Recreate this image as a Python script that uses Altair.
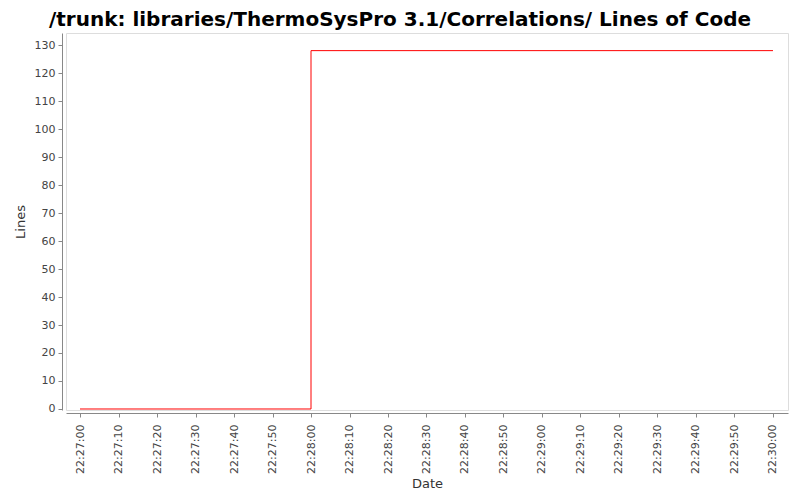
import altair as alt
import pandas as pd

times = ["2024-01-01T22:27:00", "2024-01-01T22:28:00", "2024-01-01T22:30:00"]
lines = [0, 128, 128]

tick_seconds = list(range(0, 190, 10))
y_ticks = list(range(0, 140, 10))

df = pd.DataFrame({"Date": times, "Lines": lines})

x_domain = [
    alt.DateTime(year=2024, month=1, date=1, hours=22, minutes=26, seconds=56, milliseconds=360),
    alt.DateTime(year=2024, month=1, date=1, hours=22, minutes=30, seconds=3, milliseconds=900),
]

tick_dt = [
    alt.DateTime(year=2024, month=1, date=1, hours=22, minutes=27 + s // 60, seconds=s % 60)
    for s in tick_seconds
]

axis_style = dict(
    domainColor="#888888",
    tickColor="#888888",
    labelColor="#444444",
    labelFont="DejaVu Sans",
    labelFontSize=11,
    titleFont="DejaVu Sans",
    titleFontSize=13,
    titleFontWeight="normal",
    titleColor="#333333",
    grid=False,
    tickSize=4,
)

chart = (
    alt.Chart(df)
    .mark_line(interpolate="step-after", color="#ff0000", strokeWidth=1)
    .encode(
        x=alt.X(
            "Date:T",
            scale=alt.Scale(domain=x_domain),
            axis=alt.Axis(
                title="Date",
                format="%H:%M:%S",
                values=tick_dt,
                labelAngle=-90,
                labelAlign="right",
                labelBaseline="middle",
                offset=3,
                labelPadding=7,
                titlePadding=4,
                **axis_style,
            ),
        ),
        y=alt.Y(
            "Lines:Q",
            scale=alt.Scale(domain=[-0.36, 134.3], nice=False, zero=False),
            axis=alt.Axis(
                title="Lines",
                values=y_ticks,
                offset=4,
                labelPadding=3,
                titlePadding=7,
                **axis_style,
            ),
        ),
    )
    .properties(
        width=722,
        height=377,
        autosize=alt.AutoSizeParams(type="none"),
        padding={"left": 58, "top": 25, "right": 4, "bottom": 82},
        title=alt.Title(
            "/trunk: libraries/ThermoSysPro 3.1/Correlations/ Lines of Code",
            fontSize=20,
            font="DejaVu Sans",
            fontWeight="bold",
            anchor="middle",
            dx=-27,
            offset=3,
            color="#000000",
        ),
    )
    .configure_view(stroke="#888888", strokeWidth=1)
    .configure(background="#ffffff")
)

chart.save("out.html", embed_options={"renderer": "svg", "actions": False})
